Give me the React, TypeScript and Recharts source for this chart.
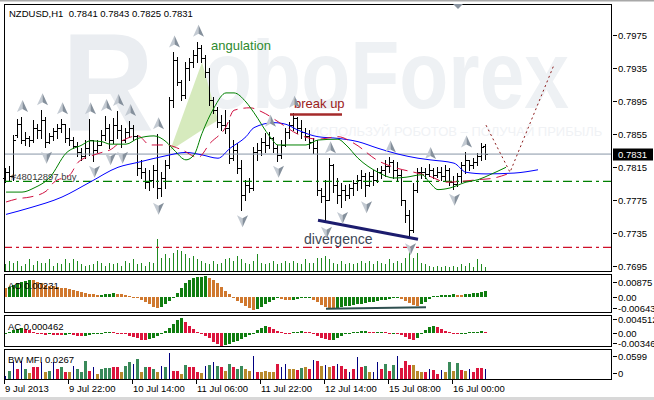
import { ComposedChart, Bar, Line, Area, XAxis, YAxis, ReferenceLine, ReferenceDot } from 'recharts';

const FONT = "'Liberation Sans', Arial, sans-serif";
const SLOTS = 152; // 121 hourly bars + chart shift space

const timeLabels = ['9 Jul 2013', '9 Jul 22:00', '10 Jul 14:00', '11 Jul 06:00', '11 Jul 22:00', '12 Jul 14:00', '15 Jul 08:00', '16 Jul 00:00'];
const timeTicks = [0, 16, 32, 48, 64, 80, 96, 112];

const opens = [
  0.7802, 0.7809, 0.7804, 0.7854, 0.7867, 0.7848, 0.7850, 0.7848, 0.7863, 0.7860,
  0.7872, 0.7846, 0.7853, 0.7859, 0.7863, 0.7867, 0.7850, 0.7848, 0.7841, 0.7833,
  0.7829, 0.7838, 0.7848, 0.7836, 0.7842, 0.7854, 0.7863, 0.7848, 0.7866, 0.7860,
  0.7848, 0.7858, 0.7863, 0.7853, 0.7814, 0.7809, 0.7797, 0.7800, 0.7812, 0.7790,
  0.7802, 0.7818, 0.7896, 0.7945, 0.7918, 0.7902, 0.7935, 0.7942, 0.7951, 0.7959,
  0.7947, 0.7930, 0.7896, 0.7884, 0.7870, 0.7866, 0.7863, 0.7826, 0.7836, 0.7814,
  0.7781, 0.7794, 0.7790, 0.7833, 0.7836, 0.7846, 0.7842, 0.7850, 0.7838, 0.7830,
  0.7842, 0.7858, 0.7866, 0.7875, 0.7863, 0.7858, 0.7853, 0.7846, 0.7838, 0.7788,
  0.7780, 0.7775, 0.7818, 0.7794, 0.7781, 0.7788, 0.7781, 0.7790, 0.7796, 0.7800,
  0.7804, 0.7794, 0.7804, 0.7800, 0.7809, 0.7812, 0.7817, 0.7821, 0.7812, 0.7806,
  0.7775, 0.7757, 0.7739, 0.7788, 0.7809, 0.7809, 0.7807, 0.7812, 0.7806, 0.7809,
  0.7804, 0.7812, 0.7797, 0.7795, 0.7804, 0.7818, 0.7824, 0.7818, 0.7821, 0.7829,
  0.7841,
];
const highs = [
  0.7814, 0.7817, 0.7854, 0.7873, 0.7876, 0.7858, 0.7853, 0.7872, 0.7867, 0.7884,
  0.7876, 0.7856, 0.7863, 0.7867, 0.7873, 0.7867, 0.7863, 0.7852, 0.7846, 0.7838,
  0.7848, 0.7873, 0.7848, 0.7848, 0.7860, 0.7877, 0.7867, 0.7875, 0.7883, 0.7866,
  0.7863, 0.7871, 0.7866, 0.7854, 0.7824, 0.7814, 0.7812, 0.7818, 0.7855, 0.7809,
  0.7824, 0.7900, 0.7954, 0.7948, 0.7921, 0.7942, 0.7947, 0.7957, 0.7967, 0.7963,
  0.7951, 0.7935, 0.7900, 0.7888, 0.7878, 0.7884, 0.7872, 0.7848, 0.7844, 0.7824,
  0.7800, 0.7802, 0.7840, 0.7844, 0.7850, 0.7856, 0.7858, 0.7852, 0.7842, 0.7848,
  0.7863, 0.7870, 0.7881, 0.7876, 0.7872, 0.7863, 0.7860, 0.7850, 0.7848, 0.7790,
  0.7800, 0.7826, 0.7819, 0.7802, 0.7796, 0.7794, 0.7795, 0.7800, 0.7806, 0.7812,
  0.7808, 0.7809, 0.7812, 0.7814, 0.7817, 0.7824, 0.7827, 0.7824, 0.7821, 0.7812,
  0.7775, 0.7763, 0.7796, 0.7814, 0.7815, 0.7814, 0.7819, 0.7814, 0.7815, 0.7815,
  0.7818, 0.7814, 0.7804, 0.7808, 0.7821, 0.7833, 0.7824, 0.7826, 0.7832, 0.7844,
  0.7843,
];
const lows = [
  0.7797, 0.7800, 0.7800, 0.7852, 0.7844, 0.7842, 0.7841, 0.7846, 0.7850, 0.7850,
  0.7840, 0.7844, 0.7848, 0.7850, 0.7858, 0.7846, 0.7842, 0.7838, 0.7829, 0.7824,
  0.7826, 0.7830, 0.7823, 0.7833, 0.7842, 0.7848, 0.7838, 0.7844, 0.7850, 0.7840,
  0.7846, 0.7852, 0.7848, 0.7806, 0.7802, 0.7790, 0.7788, 0.7791, 0.7778, 0.7780,
  0.7790, 0.7814, 0.7888, 0.7915, 0.7896, 0.7899, 0.7921, 0.7936, 0.7942, 0.7942,
  0.7924, 0.7890, 0.7881, 0.7864, 0.7860, 0.7856, 0.7820, 0.7824, 0.7808, 0.7763,
  0.7775, 0.7785, 0.7788, 0.7824, 0.7830, 0.7833, 0.7838, 0.7833, 0.7823, 0.7826,
  0.7841, 0.7850, 0.7860, 0.7856, 0.7850, 0.7848, 0.7838, 0.7832, 0.7781, 0.7773,
  0.7749, 0.7775, 0.7785, 0.7772, 0.7767, 0.7775, 0.7778, 0.7781, 0.7788, 0.7790,
  0.7780, 0.7792, 0.7794, 0.7797, 0.7802, 0.7804, 0.7809, 0.7802, 0.7800, 0.7769,
  0.7749, 0.7729, 0.7737, 0.7785, 0.7802, 0.7802, 0.7804, 0.7802, 0.7803, 0.7800,
  0.7800, 0.7794, 0.7789, 0.7792, 0.7797, 0.7808, 0.7812, 0.7814, 0.7818, 0.7824,
  0.7825,
];
const closes = [
  0.7809, 0.7804, 0.7848, 0.7867, 0.7848, 0.7850, 0.7848, 0.7863, 0.7860, 0.7872,
  0.7846, 0.7853, 0.7859, 0.7863, 0.7867, 0.7850, 0.7848, 0.7841, 0.7833, 0.7829,
  0.7838, 0.7848, 0.7836, 0.7842, 0.7854, 0.7863, 0.7848, 0.7866, 0.7860, 0.7848,
  0.7858, 0.7863, 0.7853, 0.7814, 0.7809, 0.7797, 0.7800, 0.7812, 0.7790, 0.7802,
  0.7818, 0.7896, 0.7945, 0.7918, 0.7902, 0.7935, 0.7942, 0.7951, 0.7959, 0.7947,
  0.7930, 0.7896, 0.7884, 0.7870, 0.7866, 0.7863, 0.7826, 0.7836, 0.7814, 0.7781,
  0.7794, 0.7790, 0.7833, 0.7836, 0.7846, 0.7842, 0.7850, 0.7838, 0.7830, 0.7842,
  0.7858, 0.7866, 0.7875, 0.7863, 0.7858, 0.7853, 0.7846, 0.7838, 0.7788, 0.7780,
  0.7775, 0.7818, 0.7794, 0.7781, 0.7788, 0.7781, 0.7790, 0.7796, 0.7800, 0.7804,
  0.7794, 0.7804, 0.7800, 0.7809, 0.7812, 0.7817, 0.7821, 0.7812, 0.7806, 0.7775,
  0.7757, 0.7739, 0.7788, 0.7809, 0.7809, 0.7807, 0.7812, 0.7806, 0.7809, 0.7804,
  0.7812, 0.7797, 0.7795, 0.7804, 0.7818, 0.7824, 0.7818, 0.7821, 0.7829, 0.7840,
  0.7831,
];
const volumes = [
  1200, 1650, 1350, 1650, 900, 1200, 1950, 1050, 1650, 1350, 1350, 1950, 900, 1350, 1200, 1950, 1350, 1950, 1650, 1200,
  900, 1050, 1200, 1650, 1350, 900, 1350, 1200, 1350, 900, 1650, 1350, 1950, 1200, 1350, 900, 1500, 1350, 4950, 2100,
  2700, 2100, 2850, 3300, 3150, 2700, 2100, 2400, 1950, 1650, 1350, 1200, 1650, 1200, 1350, 1950, 2100, 1650, 2400, 1950,
  1350, 1200, 1650, 2700, 1350, 1200, 1350, 1650, 1200, 1350, 1650, 1350, 1650, 1350, 1200, 1950, 1350, 1350, 2100, 2100,
  2400, 1950, 1350, 1200, 1650, 1200, 1350, 1200, 1350, 1650, 1350, 1650, 1200, 1650, 1350, 1200, 1950, 1350, 1650, 1350,
  2100, 3150, 2100, 2850, 1350, 1200, 900, 750, 900, 750, 900, 750, 900, 750, 1200, 900, 1350, 750, 1950, 1200,
  750,
];

const upFractals = [4, 9, 14, 21, 25, 28, 31, 38, 42, 48, 66, 72, 81, 96, 106, 115];
const downFractals = [10, 22, 26, 29, 38, 59, 68, 80, 84, 90, 101, 112];

// Alligator: [bar, price]
const jaw = [
  [0, 0.7758], [6, 0.7766], [14, 0.7779], [21, 0.7797], [28, 0.7815], [33, 0.7821], [40, 0.7829], [45, 0.7833],
  [49, 0.7830], [53, 0.7826], [56, 0.7838], [60, 0.7852], [62, 0.7863], [67, 0.7869], [70, 0.7867], [73, 0.7860],
  [78, 0.7852], [83, 0.7850], [88, 0.7846], [93, 0.7838], [98, 0.7831], [103, 0.7826], [106, 0.7824], [112, 0.7820],
  [115, 0.7809], [120, 0.7807], [127, 0.7808], [133, 0.7812],
];
const teeth = [
  [0, 0.7773], [3, 0.7777], [6, 0.7779], [10, 0.7786], [12, 0.7797], [16, 0.7806], [18, 0.7821], [22, 0.7830],
  [24, 0.7833], [26, 0.7836], [29, 0.7847], [33, 0.7853], [36, 0.7842], [40, 0.7842], [44, 0.7836], [48, 0.7827],
  [51, 0.7844], [55, 0.7864], [57, 0.7884], [61, 0.7887], [64, 0.7882], [69, 0.7867], [73, 0.7855], [78, 0.7849],
  [83, 0.7852], [87, 0.7844], [93, 0.7823], [97, 0.7815], [102, 0.7809], [106, 0.7804], [110, 0.7797], [114, 0.7798],
  [118, 0.7800], [122, 0.7802], [126, 0.7808],
];
const lips = [
  [0, 0.7785], [4, 0.7785], [7, 0.7790], [11, 0.7803], [15, 0.7832], [19, 0.7842], [21, 0.7847], [24, 0.7846],
  [26, 0.7843], [30, 0.7843], [33, 0.7850], [37, 0.7853], [40, 0.7846], [42, 0.7836], [45, 0.7824], [47, 0.7830],
  [49, 0.7856], [52, 0.7887], [55, 0.7905], [57, 0.7905], [60, 0.7894], [62, 0.7881], [66, 0.7852], [68, 0.7842],
  [75, 0.7842], [78, 0.7848], [83, 0.7849], [85, 0.7842], [88, 0.7826], [93, 0.7809], [97, 0.7802], [100, 0.7803],
  [104, 0.7806], [106, 0.7796], [108, 0.7788], [111, 0.7790], [115, 0.7797], [118, 0.7800], [121, 0.7806], [125, 0.7815],
];

// annotations, in bar / price terms
const forecast = [[120, 0.7866], [126, 0.7809], [137, 0.7939]];
const angulationZone = [[41, 0.7835, 0.7835], [49, 0.7860, 0.7942], [53, 0.7872, 0.7872]];
const breakUpLevel = { from: 71, to: 84, price: 0.7879 };
const divergenceLine = [[78, 0.7751], [103, 0.7728]];
const aoDivergence = [[80, -0.0069], [105, -0.0060]];
const orderLevel = 0.7798;
const stopLevel = 0.7718;

const priceTicks = [0.7695, 0.7735, 0.7775, 0.7815, 0.7855, 0.7895, 0.7935, 0.7975];

const aoValues = [
  0.0051, 0.0058, 0.0070, 0.0080, 0.0089, 0.0095, 0.0099, 0.0097, 0.0089, 0.0080,
  0.0070, 0.0066, 0.0062, 0.0058, 0.0054, 0.0051, 0.0047, 0.0041, 0.0035, 0.0031,
  0.0025, 0.0019, 0.0016, 0.0012, 0.0014, 0.0016, 0.0019, 0.0021, 0.0019, 0.0016,
  0.0012, 0.0008, 0.0002, -0.0008, -0.0017, -0.0031, -0.0043, -0.0056, -0.0062, -0.0056,
  -0.0043, -0.0023, 0.0001, 0.0021, 0.0051, 0.0080, 0.0097, 0.0109, 0.0115, 0.0119,
  0.0121, 0.0113, 0.0099, 0.0080, 0.0058, 0.0035, 0.0016, -0.0004, -0.0023, -0.0037,
  -0.0051, -0.0066, -0.0078, -0.0070, -0.0056, -0.0043, -0.0027, -0.0015, -0.0008, -0.0010,
  -0.0015, -0.0019, -0.0015, -0.0012, -0.0008, -0.0004, -0.0002, -0.0017, -0.0031, -0.0047,
  -0.0058, -0.0062, -0.0066, -0.0062, -0.0058, -0.0054, -0.0051, -0.0047, -0.0043, -0.0039,
  -0.0035, -0.0031, -0.0027, -0.0023, -0.0019, -0.0015, -0.0012, -0.0008, -0.0006, -0.0012,
  -0.0023, -0.0035, -0.0047, -0.0054, -0.0043, -0.0027, -0.0012, 0.0006, 0.0008, 0.0010,
  0.0012, 0.0014, 0.0015, 0.0013, 0.0012, 0.0016, 0.0018, 0.0021, 0.0026, 0.0030,
  0.0033,
];
const acValues = [
  0.0001, 0.0004, 0.0009, 0.0013, 0.0015, 0.0013, 0.0009, 0.0004, -0.0002, -0.0004,
  -0.0006, -0.0004, -0.0005, -0.0007, -0.0008, -0.0007, -0.0004, -0.0006, -0.0010, -0.0011,
  -0.0009, -0.0007, -0.0004, -0.0002, 0.0001, 0.0002, 0.0003, 0.0002, -0.0001, -0.0002,
  -0.0004, -0.0009, -0.0013, -0.0018, -0.0022, -0.0024, -0.0020, -0.0015, -0.0009, -0.0002,
  0.0007, 0.0018, 0.0031, 0.0043, 0.0048, 0.0037, 0.0024, 0.0013, 0.0004, -0.0002,
  -0.0009, -0.0018, -0.0029, -0.0037, -0.0042, -0.0040, -0.0035, -0.0031, -0.0026, -0.0020,
  -0.0013, -0.0007, 0.0001, 0.0009, 0.0015, 0.0022, 0.0020, 0.0013, 0.0007, 0.0002,
  -0.0001, -0.0002, 0.0002, 0.0004, 0.0005, 0.0004, 0.0002, -0.0002, -0.0009, -0.0015,
  -0.0020, -0.0024, -0.0022, -0.0015, -0.0009, -0.0002, 0.0001, 0.0003, 0.0004, 0.0005,
  0.0007, 0.0004, 0.0002, 0.0003, 0.0004, 0.0002, -0.0001, 0.0001, -0.0001, -0.0007,
  -0.0013, -0.0020, -0.0024, -0.0015, -0.0004, 0.0009, 0.0020, 0.0024, 0.0021, 0.0013,
  0.0007, 0.0002, -0.0001, -0.0002, -0.0001, 0.0001, 0.0002, 0.0003, 0.0004, 0.0006,
  0.00046,
];
const mfiValues = [
  0.0108, 0.0233, 0.0442, 0.0275, 0.0483, 0.0275, 0.0175, 0.0317, 0.0317, 0.0442,
  0.0192, 0.0233, 0.0442, 0.0275, 0.0317, 0.0208, 0.0192, 0.0358, 0.0275, 0.0208,
  0.0483, 0.0233, 0.0317, 0.0150, 0.0275, 0.0292, 0.0292, 0.0317, 0.0317, 0.0208,
  0.0358, 0.0442, 0.0400, 0.0525, 0.0192, 0.0317, 0.0317, 0.0275, 0.0192, 0.0358,
  0.0317, 0.0675, 0.0233, 0.0233, 0.0150, 0.0375, 0.0317, 0.0317, 0.0192, 0.0175,
  0.0358, 0.0375, 0.0442, 0.0358, 0.0317, 0.0233, 0.0400, 0.0317, 0.0275, 0.0358,
  0.0275, 0.0233, 0.0608, 0.0208, 0.0192, 0.0233, 0.0192, 0.0208, 0.0400, 0.0317,
  0.0400, 0.0275, 0.0275, 0.0258, 0.0292, 0.0317, 0.0275, 0.0500, 0.0483, 0.0358,
  0.0375, 0.0317, 0.0358, 0.0400, 0.0358, 0.0275, 0.0192, 0.0275, 0.0567, 0.0317,
  0.0342, 0.0192, 0.0192, 0.0442, 0.0275, 0.0400, 0.0233, 0.0375, 0.0608, 0.0292,
  0.0467, 0.0375, 0.0375, 0.0233, 0.0208, 0.0208, 0.0275, 0.0258, 0.0150, 0.0258,
  0.0192, 0.0458, 0.0233, 0.0425, 0.0258, 0.0233, 0.0275, 0.0192, 0.0292, 0.0292,
  0.0267,
];
// G = green, B = fade (brown), N = fake (blue), R = squat (pink)
const mfiZones = 'NGNRNGBRRNBGNRGRBNGGGRNBGGGRRBGGNGBGRGBNGNRRBGRRRBNGNGRBGRGGBBNRBBBBRNNBBRGBRNRBNBRNRRNRNRGBNNRGRGNRRRBBBRNRRNBGBGRBNRRRN'.split('');

const aoTicks = [0.00875, 0, -0.00643];
const aoTickText = ['0.00875', '0.00', '-0.00643'];
const acTicks = [0.004512, 0, -0.00346];
const acTickText = ['0.004512', '0.00', '-0.00346'];
const mfiTicks = [0.0599, 0];
const mfiTickText = ['0.0599', '0'];

const C_GREEN = '#0f7d0f';
const C_ORANGE = '#d0782e';
const C_RED = '#dc143c';
const zoneColor: Record<string, string> = { G: '#3a8a5a', B: '#b8892b', N: '#000080', R: '#dc143c' };

const pick = (pts: number[][], i: number) => {
  const p = pts.find((q) => q[0] === i);
  return p ? p[1] : null;
};

const priceRows = Array.from({ length: SLOTS }, (_, i) => {
  const has = i < opens.length;
  const tri = angulationZone.find((q) => q[0] === i);
  return {
    i,
    hl: has ? [lows[i], highs[i]] : null,
    o: has ? opens[i] : null,
    c: has ? closes[i] : null,
    vol: has ? volumes[i] : null,
    jaw: pick(jaw, i),
    teeth: pick(teeth, i),
    lips: pick(lips, i),
    upF: upFractals.includes(i) ? highs[i] : null,
    dnF: downFractals.includes(i) ? lows[i] : null,
    tri: tri ? [tri[1], tri[2]] : null,
    fc: pick(forecast, i),
  };
});

const aoRows = Array.from({ length: SLOTS }, (_, i) => ({
  i,
  ao: i < aoValues.length ? aoValues[i] : null,
  col: i < aoValues.length ? (i > 0 && aoValues[i] > aoValues[i - 1] ? C_GREEN : C_ORANGE) : null,
  div: pick(aoDivergence, i),
}));
const acRows = Array.from({ length: SLOTS }, (_, i) => ({
  i,
  ac: i < acValues.length ? acValues[i] : null,
  col: i < acValues.length ? (i === 0 || acValues[i] > acValues[i - 1] ? C_GREEN : C_RED) : null,
}));
const mfiRows = Array.from({ length: SLOTS }, (_, i) => ({
  i,
  mfi: i < mfiValues.length ? mfiValues[i] : null,
  zone: i < mfiValues.length ? mfiZones[i] : null,
}));

const ohlcShape = (props: any) => {
  const { x, y, width, height, payload } = props;
  if (!payload || payload.hl == null || !isFinite(y) || !isFinite(height)) return <g />;
  const top = Math.min(y, y + height);
  const bot = Math.max(y, y + height);
  const [lo, hi] = payload.hl;
  const k = (bot - top) / (hi - lo);
  const cx = Math.floor(x + width / 2);
  const oy = Math.round(top + (hi - payload.o) * k);
  const cy = Math.round(top + (hi - payload.c) * k);
  const t = Math.round(top);
  return (
    <g shapeRendering="crispEdges">
      <rect x={cx} y={t} width={1} height={Math.max(1, Math.round(bot) - t + 1)} fill="#000" />
      <rect x={cx - 2} y={oy} width={2} height={1} fill="#000" />
      <rect x={cx + 1} y={cy} width={2} height={1} fill="#000" />
    </g>
  );
};

const histShape = (colorOf: (row: any) => string | null, thinOf?: (row: any) => boolean) => (props: any) => {
  const { x, y, width, height, payload } = props;
  const color = payload ? colorOf(payload) : null;
  if (!color || !isFinite(x) || !isFinite(y) || !isFinite(height)) return <g />;
  const top = Math.min(y, y + height);
  const bot = Math.max(y, y + height);
  const cx = Math.floor(x + width / 2);
  const thin = thinOf ? thinOf(payload) : false;
  const t = Math.round(top);
  const h = Math.max(1, Math.round(bot) - t);
  return <rect x={thin ? cx : cx - 1} y={t} width={thin ? 1 : 3} height={h} fill={color} shapeRendering="crispEdges" />;
};

const volShape = histShape((r) => (r.vol == null ? null : '#1f8a1f'), () => true);
const aoShape = histShape((r) => r.col);
const acShape = histShape((r) => r.col);
const mfiShape = histShape((r) => (r.zone ? zoneColor[r.zone] : null), (r) => r.zone === 'N');

const arrow = (dir: 1 | -1) => (props: any) => {
  const { cx, cy, value, index } = props;
  if (value == null || !isFinite(cy)) return <g key={index} />;
  const s = -dir;
  return (
    <g key={index} transform={`translate(${Math.floor(cx) + 0.5},${cy})`}>
      <polygon points={`0,${s * 17} 0,${s * 8} -5.5,${s * 5}`} fill="#c3cad2" />
      <polygon points={`0,${s * 17} 5.5,${s * 5} 0,${s * 8}`} fill="#85909c" />
    </g>
  );
};

const note = (text: string, dx: number, dy: number, color: string, size: number) => (p: any) => {
  const vb = p.viewBox || { x: 0, y: 0 };
  return (
    <text x={vb.x + dx} y={vb.y + dy} fill={color} fontSize={size} fontFamily={FONT}>
      {text}
    </text>
  );
};

const axisText = { fontSize: 9.5, fontFamily: FONT, fill: '#000' };

const PriceTick = (p: any) => {
  const v = p.payload.value;
  const y = Math.round(p.y) + 0.5;
  const x = Math.round(p.x);
  if (v === closes[closes.length - 1]) {
    return (
      <g>
        <rect x={x + 1} y={y - 6} width={40} height={12} fill="#000" />
        <text x={x + 6} y={y + 3.5} {...axisText} fill="#fff">{v.toFixed(4)}</text>
      </g>
    );
  }
  return (
    <g>
      <line x1={x + 1} x2={x + 5} y1={y} y2={y} stroke="#000" />
      <text x={x + 6} y={y + 3.5} {...axisText}>{v.toFixed(4)}</text>
    </g>
  );
};

const subTick = (ticks: number[], texts: string[], lifts: number[] = []) => (p: any) => {
  const k = ticks.indexOf(p.payload.value);
  const y = Math.round(p.y) + 0.5 - (lifts[k] || 0);
  const x = Math.round(p.x);
  return (
    <g>
      <line x1={x + 1} x2={x + 5} y1={y} y2={y} stroke="#000" />
      <text x={x + 6} y={y + 3.5} {...axisText}>{texts[k]}</text>
    </g>
  );
};

const TimeTick = (p: any) => {
  const k = timeTicks.indexOf(p.payload.value);
  const x = Math.floor(p.x) - 1.5;
  const y = Math.round(p.y);
  return (
    <g>
      <line x1={x} x2={x} y1={y} y2={y + 4} stroke="#000" />
      <text x={x + 0.5} y={y + 12} {...axisText}>{timeLabels[k]}</text>
    </g>
  );
};

const margin = { top: 0, right: 0, bottom: 0, left: 4 };

function MainChart() {
  return (
    <ComposedChart width={654} height={273} data={priceRows} margin={{ ...margin, top: 4, bottom: 1 }}>
      <XAxis dataKey="i" type="category" hide />
      <XAxis dataKey="i" type="category" xAxisId="vol" hide />
      <YAxis
        orientation="right"
        width={42}
        domain={[0.76883, 0.80126]}
        allowDataOverflow
        ticks={[...priceTicks, closes[closes.length - 1]]}
        interval={0}
        tickLine={false}
        axisLine={false}
        tickSize={0}
        tickMargin={0}
        tick={PriceTick}
      />
      <YAxis yAxisId="vol" hide domain={[0, 40200]} allowDataOverflow />
      <Area dataKey="tri" type="linear" connectNulls fill="#cfe6b2" fillOpacity={0.85} stroke="none" isAnimationActive={false} />
      <Bar dataKey="vol" xAxisId="vol" yAxisId="vol" shape={volShape} isAnimationActive={false} />
      <ReferenceLine y={closes[closes.length - 1]} stroke="#8796a6" strokeWidth={1} />
      <ReferenceLine y={orderLevel} stroke="#008000" strokeWidth={1.2} strokeDasharray="9 4 3 4" label={note('#48012897 buy', 7, -1, '#3a3a3a', 9.5)} />
      <ReferenceLine y={stopLevel} stroke="#d0102a" strokeWidth={1.2} strokeDasharray="9 4 3 4" />
      <Line dataKey="jaw" type="monotone" connectNulls stroke="#0000ff" strokeWidth={1} dot={false} activeDot={false} isAnimationActive={false} />
      <Line dataKey="teeth" type="monotone" connectNulls stroke="#d01040" strokeWidth={1} strokeDasharray="11 6" dot={false} activeDot={false} isAnimationActive={false} />
      <Line dataKey="lips" type="monotone" connectNulls stroke="#008000" strokeWidth={1} dot={false} activeDot={false} isAnimationActive={false} />
      <Line dataKey="fc" type="linear" connectNulls stroke="#8b1a1a" strokeWidth={1} strokeDasharray="2 3" dot={false} activeDot={false} isAnimationActive={false} />
      <Bar dataKey="hl" shape={ohlcShape} isAnimationActive={false} />
      <Line dataKey="upF" stroke="none" dot={arrow(1)} activeDot={false} isAnimationActive={false} />
      <Line dataKey="dnF" stroke="none" dot={arrow(-1)} activeDot={false} isAnimationActive={false} />
      <ReferenceLine
        segment={[{ x: breakUpLevel.from, y: breakUpLevel.price }, { x: breakUpLevel.to, y: breakUpLevel.price }]}
        stroke="#a52a2a"
        strokeWidth={2.5}
        label={note('break up', 4, -6, '#9b1b1b', 13)}
      />
      <ReferenceLine
        segment={[{ x: divergenceLine[0][0], y: divergenceLine[0][1] }, { x: divergenceLine[1][0], y: divergenceLine[1][1] }]}
        stroke="#1c1c6e"
        strokeWidth={3}
        label={note('divergence', -14, 24, '#3c4656', 14)}
      />
      <ReferenceDot x={51} y={0.7958} r={1} fill="none" stroke="none" label={note('angulation', 2, 2, '#2e8a2e', 13)} />
    </ComposedChart>
  );
}

function AoChart() {
  return (
    <ComposedChart width={654} height={39} data={aoRows} margin={margin}>
      <XAxis dataKey="i" type="category" hide />
      <YAxis orientation="right" width={42} domain={[-0.00933, 0.01341]} allowDataOverflow ticks={aoTicks} interval={0}
        tickLine={false} axisLine={false} tickSize={0} tickMargin={0} tick={subTick(aoTicks, aoTickText)} />
      <Bar dataKey="ao" shape={aoShape} isAnimationActive={false} />
      <Line dataKey="div" type="linear" connectNulls stroke="#2f4f4f" strokeWidth={2} dot={false} activeDot={false} isAnimationActive={false} />
    </ComposedChart>
  );
}

function AcChart() {
  return (
    <ComposedChart width={654} height={32} data={acRows} margin={margin}>
      <XAxis dataKey="i" type="category" hide />
      <YAxis orientation="right" width={42} domain={[-0.00462, 0.00594]} allowDataOverflow ticks={acTicks} interval={0}
        tickLine={false} axisLine={false} tickSize={0} tickMargin={0} tick={subTick(acTicks, acTickText)} />
      <Bar dataKey="ac" shape={acShape} isAnimationActive={false} />
    </ComposedChart>
  );
}

function MfiChart() {
  return (
    <ComposedChart width={654} height={51} data={mfiRows} margin={margin}>
      <XAxis dataKey="i" type="category" height={20} ticks={timeTicks} interval={0} tickLine={false} axisLine={false}
        tickSize={0} tickMargin={0} tick={TimeTick} />
      <YAxis orientation="right" width={42} domain={[0, 0.0775]} allowDataOverflow ticks={mfiTicks} interval={0}
        tickLine={false} axisLine={false} tickSize={0} tickMargin={0} tick={subTick(mfiTicks, mfiTickText, [0, 7])} />
      <Bar dataKey="mfi" shape={mfiShape} isAnimationActive={false} />
    </ComposedChart>
  );
}

function Watermark() {
  return (
    <svg width={654} height={400} style={{ position: 'absolute', left: 0, top: 0 }}>
      <text x={62} y={130} fontSize={140} fontWeight="bold" fill="#eaedf1" fontFamily={FONT} textLength={92} lengthAdjust="spacingAndGlyphs">R</text>
      <text x={203} y={108} fontSize={96} fontWeight="bold" fill="#eef1f4" fontFamily={FONT} textLength={366} lengthAdjust="spacingAndGlyphs">oboForex</text>
      <text x={310} y={136} fontSize={13} fill="#f0f2f5" fontFamily={FONT}>ИСПОЛЬЗУЙ РОБОТОВ – ПОЛУЧАЙ ПРИБЫЛЬ</text>
    </svg>
  );
}

function Overlay() {
  const t = { fontSize: 9.5, fontFamily: FONT, fill: '#000', style: { whiteSpace: 'pre' as const } };
  return (
    <svg width={654} height={400} style={{ position: 'absolute', left: 0, top: 0, pointerEvents: 'none' }}>
      <rect x={0} y={0} width={654} height={1.5} fill="#a8a8a8" />
      <rect x={0} y={397} width={654} height={3} fill="#d8d8d8" />
      <g fill="none" stroke="#000" shapeRendering="crispEdges">
        <rect x={4.5} y={4.5} width={607} height={267} />
        <rect x={4.5} y={274.5} width={607} height={38} />
        <rect x={4.5} y={315.5} width={607} height={31} />
        <rect x={4.5} y={349.5} width={607} height={30} />
      </g>
      <polygon points="453,4 463,4 458,9" fill="#8a94a0" />
      <text x={9} y={17} {...t}>NZDUSD,H1  0.7841 0.7843 0.7825 0.7831</text>
      <text x={8} y={289} {...t}>AO 0.00231</text>
      <text x={8} y={329.5} {...t}>AC 0.000462</text>
      <text x={8} y={363} {...t}>BW MFI 0.0267</text>
    </svg>
  );
}

export default function App() {
  return (
    <div style={{ position: 'absolute', left: 0, top: 0, width: 654, height: 400, background: '#fff', overflow: 'hidden' }}>
      <Watermark />
      <div style={{ position: 'absolute', left: 0, top: 0 }}><MainChart /></div>
      <div style={{ position: 'absolute', left: 0, top: 274 }}><AoChart /></div>
      <div style={{ position: 'absolute', left: 0, top: 315 }}><AcChart /></div>
      <div style={{ position: 'absolute', left: 0, top: 349 }}><MfiChart /></div>
      <Overlay />
    </div>
  );
}
